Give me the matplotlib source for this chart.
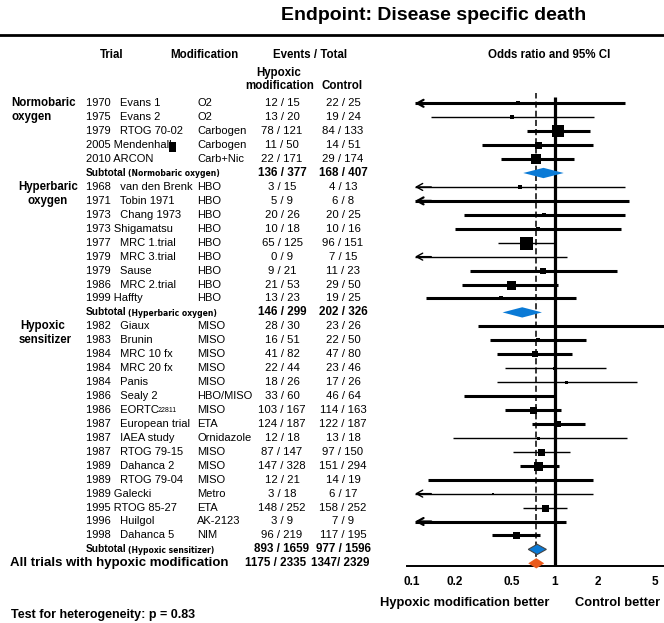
import matplotlib
matplotlib.use('Agg')
import matplotlib.pyplot as plt
import matplotlib.transforms as mtransforms
from matplotlib.patches import Rectangle
import numpy as np

plt.rcParams['font.family'] = ['Liberation Sans', 'DejaVu Sans']

# ---------------- data ----------------
title = "Endpoint: Disease specific death"
group_labels = [("Normobaric", "oxygen"), ("Hyperbaric", "oxygen"), ("Hypoxic", "sensitizer")]
subtotal_labels = ["(Normobaric oxygen)", "(Hyperbaric oxygen)", "(Hypoxic sensitizer)"]

normo_trials = ["1970   Evans 1", "1975   Evans 2", "1979   RTOG 70-02", "2005 Mendenhall", "2010 ARCON"]
normo_mod = ["O2", "O2", "Carbogen", "Carbogen", "Carb+Nic"]
normo_hyp = ["12 / 15", "13 / 20", "78 / 121", "11 / 50", "22 / 171"]
normo_ctl = ["22 / 25", "19 / 24", "84 / 133", "14 / 51", "29 / 174"]
normo_or = [0.55, 0.50, 1.05, 0.76, 0.74]
normo_lo = [0.05, 0.135, 0.64, 0.31, 0.42]
normo_hi = [3.1, 1.86, 1.77, 1.83, 1.35]
normo_wt = [4, 5, 12, 7, 10]
normo_thin = [False, True, False, False, False]

hyper_trials = ["1968   van den Brenk", "1971   Tobin 1971", "1973   Chang 1973", "1973 Shigamatsu",
                "1977   MRC 1.trial", "1979   MRC 3.trial", "1979   Sause", "1986   MRC 2.trial", "1999 Haffty"]
hyper_mod = ["HBO"] * 9
hyper_hyp = ["3 / 15", "5 / 9", "20 / 26", "10 / 18", "65 / 125", "0 / 9", "9 / 21", "21 / 53", "13 / 23"]
hyper_ctl = ["4 / 13", "6 / 8", "20 / 25", "10 / 16", "96 / 151", "7 / 15", "11 / 23", "29 / 50", "19 / 25"]
hyper_or = [0.57, 0.43, 0.84, 0.76, 0.63, np.nan, 0.83, 0.49, 0.42]
hyper_lo = [0.05, 0.05, 0.23, 0.20, 0.40, 0.05, 0.255, 0.225, 0.125]
hyper_hi = [3.1, 3.3, 3.1, 2.9, 0.99, 1.21, 2.7, 1.05, 1.4]
hyper_wt = [4, 3, 5, 4, 13, 0, 6, 9, 5]
hyper_thin = [True, False, False, False, True, True, False, False, False]

sens_trials = ["1982   Giaux", "1983   Brunin", "1984   MRC 10 fx", "1984   MRC 20 fx", "1984   Panis",
               "1986   Sealy 2", "1986   EORTC", "1987   European trial", "1987   IAEA study",
               "1987   RTOG 79-15", "1989   Dahanca 2", "1989   RTOG 79-04", "1989 Galecki",
               "1995 RTOG 85-27", "1996   Huilgol", "1998   Dahanca 5"]
sens_mod = ["MISO", "MISO", "MISO", "MISO", "MISO", "HBO/MISO", "MISO", "ETA", "Ornidazole",
            "MISO", "MISO", "MISO", "Metro", "ETA", "AK-2123", "NIM"]
sens_hyp = ["28 / 30", "16 / 51", "41 / 82", "22 / 44", "18 / 26", "33 / 60", "103 / 167", "124 / 187",
            "12 / 18", "87 / 147", "147 / 328", "12 / 21", "3 / 18", "148 / 252", "3 / 9", "96 / 219"]
sens_ctl = ["23 / 26", "22 / 50", "47 / 80", "23 / 46", "17 / 26", "46 / 64", "114 / 163", "122 / 187",
            "13 / 18", "97 / 150", "151 / 294", "14 / 19", "6 / 17", "158 / 252", "7 / 9", "117 / 195"]
sens_or = [1.83, 0.76, 0.72, 0.98, 1.19, 0.50, 0.70, 1.05, 0.76, 0.80, 0.76, 0.48, 0.37, 0.85, 0.14, 0.53]
sens_lo = [0.29, 0.35, 0.39, 0.445, 0.39, 0.23, 0.445, 0.69, 0.195, 0.505, 0.565, 0.13, 0.05, 0.60, 0.05, 0.36]
sens_hi = [12.0, 1.66, 1.31, 2.28, 3.73, 0.99, 1.10, 1.61, 3.19, 1.27, 1.07, 1.83, 1.83, 1.21, 1.19, 0.79]
sens_wt = [3, 4, 6, 3, 3, 3, 7, 6, 3, 7, 9, 3, 2, 7, 3, 7]
sens_thin = [False, False, False, True, True, False, False, False, True, True, False, False, True, True,
             False, False]
eortc_note = "22811"

subtotal_hyp = ["136 / 377", "146 / 299", "893 / 1659"]
subtotal_ctl = ["168 / 407", "202 / 326", "977 / 1596"]
subtotal_or = [0.83, 0.59, 0.75]
subtotal_lo = [0.60, 0.43, 0.65]
subtotal_hi = [1.15, 0.81, 0.87]

overall_label = "All trials with hypoxic modification"
overall_hyp = "1175 / 2335"
overall_ctl = "1347/ 2329"
overall_or, overall_lo, overall_hi = 0.74, 0.65, 0.84

tick_values = [0.1, 0.2, 0.5, 1, 2, 5]
tick_labels = ["0.1", "0.2", "0.5", "1", "2", "5"]
heterogeneity = "Test for heterogeneity: p = 0.83"

# ---------------- layout ----------------
W, H = 664, 623
fig = plt.figure(figsize=(W / 100, H / 100), dpi=100)

def fx(px):
    return px / W

def fy(py):
    return 1 - py / H

row0_px, step_px = 103.3, 13.94
ax_top_px, ax_bot_px, ax_left_px = 93, 566, 407
ax = fig.add_axes([fx(ax_left_px), fy(ax_bot_px), 1 - fx(ax_left_px), (ax_bot_px - ax_top_px) / H])
ax.set_xscale('log')
xmin, xmax = 0.0923, 5.78
ax.set_xlim(xmin, xmax)
ax.set_ylim((ax_bot_px - row0_px) / step_px, (ax_top_px - row0_px) / step_px)
for s in ['top', 'left', 'right']:
    ax.spines[s].set_visible(False)
ax.spines['bottom'].set_linewidth(1.4)
ax.set_yticks([])
ax.set_xticks(tick_values)
ax.set_xticklabels(tick_labels)
ax.xaxis.set_minor_locator(matplotlib.ticker.NullLocator())
ax.tick_params(axis='x', length=0, pad=7, labelsize=8.5)
for lbl in ax.get_xticklabels():
    lbl.set_fontweight('bold')
ax.patch.set_alpha(0)

trans = mtransforms.blended_transform_factory(fig.transFigure, ax.transData)
FS = 8.0
X_TRIAL, X_MOD, X_HYP, X_CTL = 86, 197, 282, 343
arrow_tip = 0.105
BLUE = '#0a7ad6'
ORANGE = '#ea5a1c'

def ttext(xpx, r, s, **kw):
    kw.setdefault('fontsize', FS)
    ax.text(fx(xpx), r, s, transform=trans, va='center', **kw)

def draw_trial(r, orv, lo, hi, wt, thin):
    lw = 1.0 if thin else 2.2
    left = lo if lo >= xmin else arrow_tip
    ax.plot([left, hi], [r, r], color='k', lw=lw, solid_capstyle='butt', zorder=3)
    if lo < xmin:
        ax.annotate('', xy=(arrow_tip, r), xytext=(arrow_tip * 1.3, r),
                    arrowprops=dict(arrowstyle='->,head_length=0.45,head_width=0.25',
                                    lw=min(lw, 1.6), color='k', shrinkA=0, shrinkB=0),
                    annotation_clip=False, zorder=3)
    if wt > 0 and np.isfinite(orv):
        ax.plot([orv], [r], marker='s', ms=wt * 0.72, color='k', mew=0, zorder=4)

def diamond(r, est, lo, hi, fc, ec='none', h=0.37):
    ax.fill([lo, est, hi, est], [r, r - h, r, r + h], facecolor=fc, edgecolor=ec,
            lw=0.8, zorder=6, clip_on=False)

groups = [
    (normo_trials, normo_mod, normo_hyp, normo_ctl, normo_or, normo_lo, normo_hi, normo_wt, normo_thin),
    (hyper_trials, hyper_mod, hyper_hyp, hyper_ctl, hyper_or, hyper_lo, hyper_hi, hyper_wt, hyper_thin),
    (sens_trials, sens_mod, sens_hyp, sens_ctl, sens_or, sens_lo, sens_hi, sens_wt, sens_thin),
]
group_x = [(11, 11), (18, 27), (20, 19)]

r = 0
for gi, (tr, md, hy, ct, orv, lo, hi, wt, th) in enumerate(groups):
    ttext(group_x[gi][0], r, group_labels[gi][0], fontweight='bold', fontsize=8.3)
    ttext(group_x[gi][1], r + 1, group_labels[gi][1], fontweight='bold', fontsize=8.3)
    for i in range(len(tr)):
        ttext(X_TRIAL, r, tr[i])
        if tr[i].endswith("EORTC"):
            ttext(158, r + 0.05, eortc_note, fontsize=5)
        ttext(X_MOD, r, md[i])
        ttext(X_HYP, r, hy[i], ha='center', fontsize=8.2)
        ttext(X_CTL, r, ct[i], ha='center', fontsize=8.2)
        draw_trial(r, orv[i], lo[i], hi[i], wt[i], th[i])
        r += 1
    ttext(X_TRIAL, r, "Subtotal", fontweight='bold', fontsize=7.3)
    ttext(128, r + 0.05, subtotal_labels[gi], fontweight='bold', fontsize=5.5,
          family=['DejaVu Sans'])
    ttext(X_HYP, r, subtotal_hyp[gi], ha='center', fontweight='bold', fontsize=8.4)
    ttext(X_CTL, r, subtotal_ctl[gi], ha='center', fontweight='bold', fontsize=8.4)
    diamond(r, subtotal_or[gi], subtotal_lo[gi], subtotal_hi[gi], BLUE,
            ec='#444444' if gi == 2 else 'none')
    r += 1

ttext(10, r, overall_label, fontweight='bold', fontsize=9.5)
ttext(276, r, overall_hyp, ha='center', fontweight='bold', fontsize=8.4)
ttext(340, r, overall_ctl, ha='center', fontweight='bold', fontsize=8.4)
diamond(r, overall_or, overall_lo, overall_hi, ORANGE)

# reference lines
ax.vlines(1, (97 - row0_px) / step_px, ax.get_ylim()[0], color='k', lw=2.3, zorder=2)
ax.axvline(overall_or, color='k', lw=1.1, dashes=(4, 2), zorder=2)

# headers
fig.text(fx(434), fy(16), title, ha='center', va='center', fontsize=14, fontweight='bold')
fig.add_artist(plt.Line2D([0, 1], [fy(35), fy(35)], color='k', lw=2.0, transform=fig.transFigure))
hdr = dict(ha='center', va='center', fontsize=8.3, fontweight='bold')
fig.text(fx(112), fy(55), "Trial", **hdr)
fig.text(fx(204), fy(55), "Modification", **hdr)
fig.text(fx(310), fy(55), "Events / Total", **hdr)
fig.text(fx(549), fy(55), "Odds ratio and 95% CI", **hdr)
fig.text(fx(279), fy(73), "Hypoxic", **hdr)
fig.text(fx(280), fy(86), "modification", **hdr)
fig.text(fx(342), fy(86), "Control", **hdr)

fig.text(fx(465), fy(603), "Hypoxic modification better", ha='center', va='center',
         fontsize=9.3, fontweight='bold')
fig.text(fx(618), fy(603), "Control better", ha='center', va='center', fontsize=9.3, fontweight='bold')
fig.text(fx(11), fy(615), heterogeneity, ha='left', va='center', fontsize=9, fontweight='bold')

# redaction mark over the Mendenhall label
fig.add_artist(Rectangle((fx(169), fy(152)), fx(7), 10 / H, transform=fig.transFigure,
                         facecolor='k', edgecolor='none'))

fig.savefig('out.png', dpi=100)
